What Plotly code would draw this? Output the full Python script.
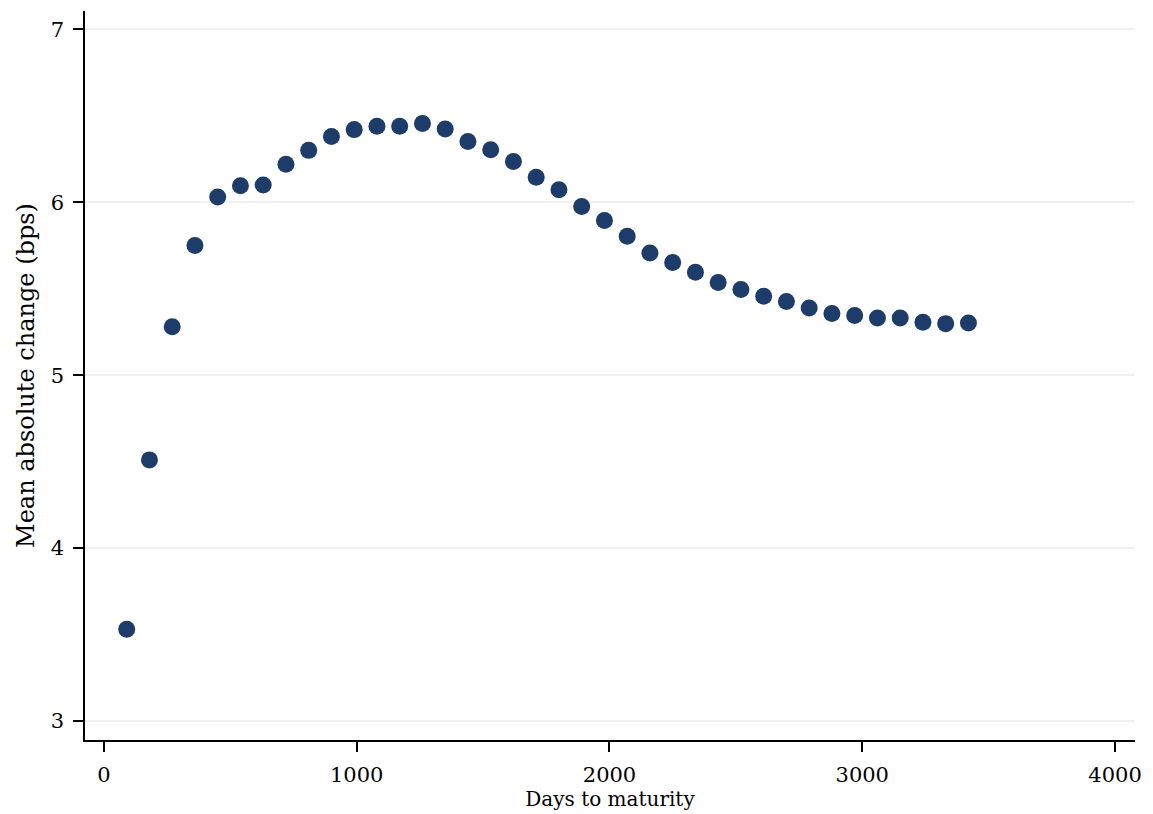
import plotly.graph_objects as go

days_to_maturity = [90, 180, 270, 360, 450, 540, 630, 720, 810, 900,
                    990, 1080, 1170, 1260, 1350, 1440, 1530, 1620, 1710, 1800,
                    1890, 1980, 2070, 2160, 2250, 2340, 2430, 2520, 2610, 2700,
                    2790, 2880, 2970, 3060, 3150, 3240, 3330, 3420]
mean_abs_change = [3.53, 4.51, 5.28, 5.75, 6.03, 6.095, 6.10, 6.22, 6.30, 6.38,
                   6.42, 6.44, 6.44, 6.455, 6.423, 6.351, 6.303, 6.236, 6.145, 6.072,
                   5.976, 5.895, 5.803, 5.707, 5.652, 5.595, 5.536, 5.495, 5.456, 5.426,
                   5.389, 5.356, 5.345, 5.331, 5.331, 5.306, 5.298, 5.302]

x_ticks = [0, 1000, 2000, 3000, 4000]
y_ticks = [3, 4, 5, 6, 7]

FONT = "DejaVu Serif"

fig = go.Figure()
fig.add_trace(go.Scatter(
    x=days_to_maturity, y=mean_abs_change, mode="markers",
    marker=dict(size=17, color="#1e3c69", line=dict(width=0)),
    showlegend=False,
))

fig.update_layout(
    width=1153, height=814,
    margin=dict(l=85, r=15, t=11, b=73),
    paper_bgcolor="white", plot_bgcolor="white",
    font=dict(family=FONT, color="black"),
)
fig.update_xaxes(
    range=[-75, 4079], tickvals=x_ticks, ticktext=[str(v) for v in x_ticks],
    showline=True, linecolor="black", linewidth=1.5,
    ticks="outside", ticklen=10, tickwidth=1.5, tickcolor="black",
    tickfont=dict(family=FONT, size=21), ticklabelstandoff=5,
    showgrid=False, zeroline=False,
    title=dict(text="Days to maturity", font=dict(family=FONT, size=20), standoff=2),
)
fig.update_yaxes(
    range=[2.89, 7.106], tickvals=y_ticks, ticktext=[str(v) for v in y_ticks],
    showline=True, linecolor="black", linewidth=1.5,
    ticks="outside", ticklen=10, tickwidth=1.5, tickcolor="black",
    tickfont=dict(family=FONT, size=21), ticklabelstandoff=5,
    showgrid=True, gridcolor="#f1f1f1", gridwidth=1.5, zeroline=False,
    title=dict(text="Mean absolute change (bps)", font=dict(family=FONT, size=24), standoff=9),
)

fig.write_html("out.html")
